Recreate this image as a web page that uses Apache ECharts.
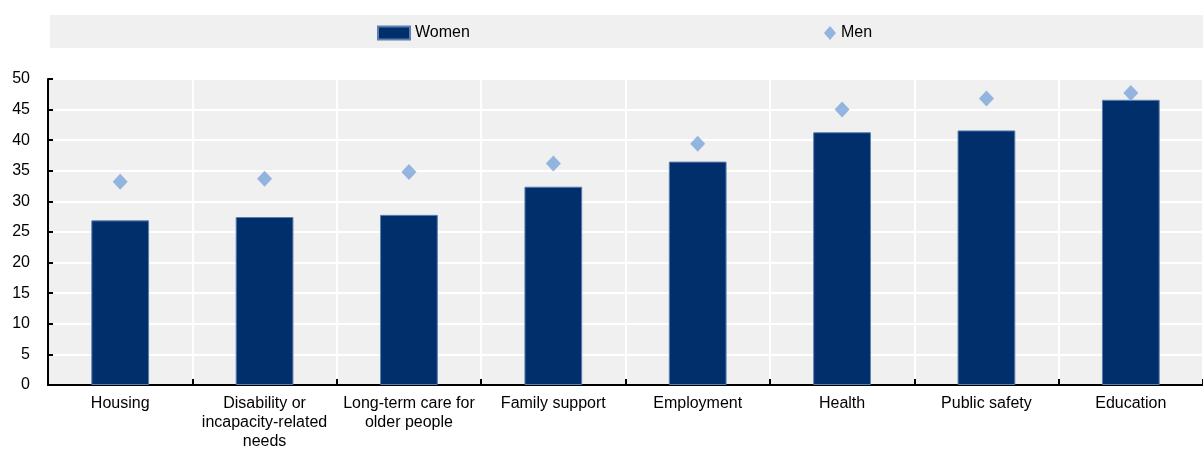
<!DOCTYPE html>
<html><head><meta charset="utf-8">
<script src="https://cdn.jsdelivr.net/npm/echarts@6/dist/echarts.min.js"></script>
<style>html,body{margin:0;padding:0;background:#fff}#c{width:1203px;height:453px}</style>
</head><body><div id="c"></div>
<script>
const categories = ["Housing", "Disability or\nincapacity-related\nneeds", "Long-term care for\nolder people", "Family support", "Employment", "Health", "Public safety", "Education"];
const women = [26.9, 27.45, 27.8, 32.4, 36.5, 41.3, 41.6, 46.6];
const men = [33.2, 33.7, 34.8, 36.2, 39.4, 45.0, 46.8, 47.7];
const yTicks = {min: 0, max: 50, interval: 5};

const FONT = '"Liberation Sans Narrow", "Arial Narrow", "Liberation Sans", Arial, sans-serif';
const chart = echarts.init(document.getElementById('c'), null, {renderer: 'canvas'});
chart.setOption({
  animation: false,
  textStyle: {fontFamily: FONT},
  graphic: [{type: 'rect', left: 50, top: 15, shape: {width: 1153, height: 33}, style: {fill: '#f0f0f0'}, z: -10}],
  legend: [
    {data: [{name: 'Women', icon: 'rect'}], left: 372, top: 20, itemWidth: 32, itemHeight: 13, itemGap: 10,
     textStyle: {fontSize: 16, color: '#000', fontFamily: FONT}},
    {data: [{name: 'Men', icon: 'diamond'}], left: 819, top: 20, itemWidth: 12, itemHeight: 14, itemGap: 4,
     textStyle: {fontSize: 16, color: '#000', fontFamily: FONT}}
  ],
  grid: {left: 48, right: 0, top: 79, bottom: 68, containLabel: false, show: true, backgroundColor: '#f0f0f0', borderWidth: 0},
  xAxis: {
    type: 'category', data: categories,
    axisLine: {lineStyle: {color: '#000', width: 2}},
    axisTick: {show: true, inside: true, length: 6, lineStyle: {color: '#000', width: 2}},
    splitLine: {show: true, lineStyle: {color: '#fff', width: 2}},
    axisLabel: {fontSize: 16, color: '#000', lineHeight: 19, margin: 9, interval: 0, fontFamily: FONT}
  },
  yAxis: {
    type: 'value', min: yTicks.min, max: yTicks.max, interval: yTicks.interval,
    axisLine: {show: true, lineStyle: {color: '#000', width: 2}},
    axisTick: {show: true, inside: true, length: 5, lineStyle: {color: '#000', width: 2}},
    splitLine: {show: true, lineStyle: {color: '#fff', width: 2}},
    axisLabel: {fontSize: 16, color: '#000', margin: 18, fontFamily: FONT}
  },
  series: [
    {name: 'Women', type: 'bar', data: women, barWidth: '40%',
     itemStyle: {color: '#002f6c', borderColor: '#5b7fae', borderWidth: 1}},
    {name: 'Men', type: 'scatter', data: men, symbol: 'diamond', symbolSize: [15, 16],
     itemStyle: {color: '#7aa5da'}, z: 5}
  ]
});
</script></body></html>
